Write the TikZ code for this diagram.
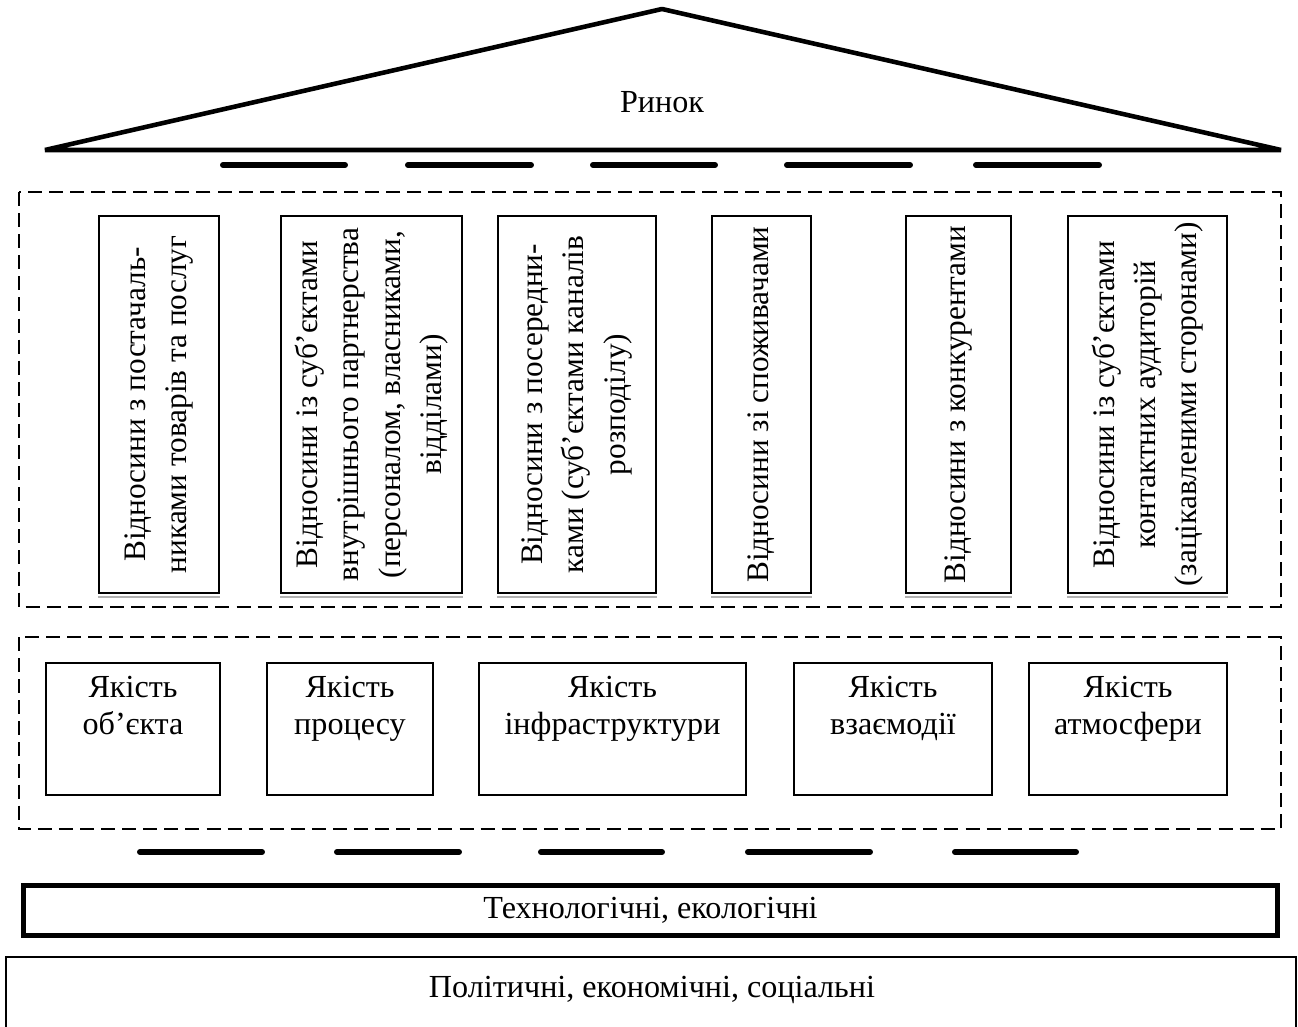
\documentclass[tikz,border=0pt]{standalone}
\usepackage{fontspec}
\setmainfont{Liberation Serif}
\tikzset{
  vbox/.style={draw, line width=1pt, rotate=90, align=center, inner sep=0pt,
    minimum width=7.54cm, font=\fontsize{17.8}{23.5}\selectfont},
  qbox/.style={draw, line width=1pt, align=center, inner sep=0pt,
    minimum height=2.64cm, font=\fontsize{18.3}{21}\selectfont},
  frame/.style={draw, line width=0.9pt, dash pattern=on 8pt off 4pt},
  beam/.style={line width=3.4pt, line cap=round},
  label/.style={font=\fontsize{18.3}{21}\selectfont}
}

\begin{document}
\begin{tikzpicture}[x=0.02cm, y=-0.02cm]
\useasboundingbox (0,0) rectangle (1298,1027);

% roof
\draw[line width=2.6pt, line join=bevel] (45,150) -- (662,9) -- (1281,150) -- cycle;
\node[label] (market) at (662,102) {Ринок};
\foreach \a/\b in {223/345, 408/531, 593/715, 787/910, 976/1099}
  \draw[beam] (\a,165) -- (\b,165);

% relations
\draw[frame] (19,192) rectangle (1281,607);
\node[vbox, minimum height=2.4cm] (v1) at (159,404.5)
  {Відносини з постачаль-\\никами товарів та послуг};
\node[vbox, minimum height=3.62cm] (v2) at (371.5,404.5)
  {Відносини із суб’єктами\\внутрішнього партнерства\\(персоналом, власниками,\\відділами)};
\node[vbox, minimum height=3.16cm] (v3) at (577,404.5)
  {Відносини з посередни-\\ками (суб’єктами каналів\\розподілу)};
\node[vbox, minimum height=1.98cm] (v4) at (761.5,404.5)
  {Відносини зі споживачами};
\node[vbox, minimum height=2.1cm] (v5) at (958.5,404.5)
  {Відносини з конкурентами};
\node[vbox, minimum height=3.18cm] (v6) at (1147.5,404.5)
  {Відносини із суб’єктами\\контактних аудиторій\\(зацікавленими сторонами)};
\foreach \n in {v1,v2,v3,v4,v5,v6}
  \draw[gray!60, line width=1.6pt] ([yshift=-1.8pt]\n.north west) -- ([yshift=-1.8pt]\n.south west);

% quality
\draw[frame] (19,637) rectangle (1281,829);
\node[qbox, minimum width=3.48cm] (q1) at (133,729) {Якість\\об’єкта\\\strut};
\node[qbox, minimum width=3.32cm] (q2) at (350,729) {Якість\\процесу\\\strut};
\node[qbox, minimum width=5.34cm] (q3) at (612.5,729) {Якість\\інфраструктури\\\strut};
\node[qbox, minimum width=3.96cm] (q4) at (893,729) {Якість\\взаємодії\\\strut};
\node[qbox, minimum width=3.96cm] (q5) at (1128,729) {Якість\\атмосфери\\\strut};

\foreach \a/\b in {140/262, 337/459, 541/662, 748/870, 955/1076}
  \draw[beam] (\a,852) -- (\b,852);

% base
\node[draw, line width=2.8pt, minimum width=25.1cm, minimum height=1.0cm, label] (tech)
  at (650.5,910.5) {Технологічні, екологічні};
\draw[line width=1pt] (1296,1035) -- (1296,957) -- (6,957) -- (6,1035);
\node[label] (social) at (652,990) {Політичні, економічні, соціальні};
\end{tikzpicture}
\end{document}
